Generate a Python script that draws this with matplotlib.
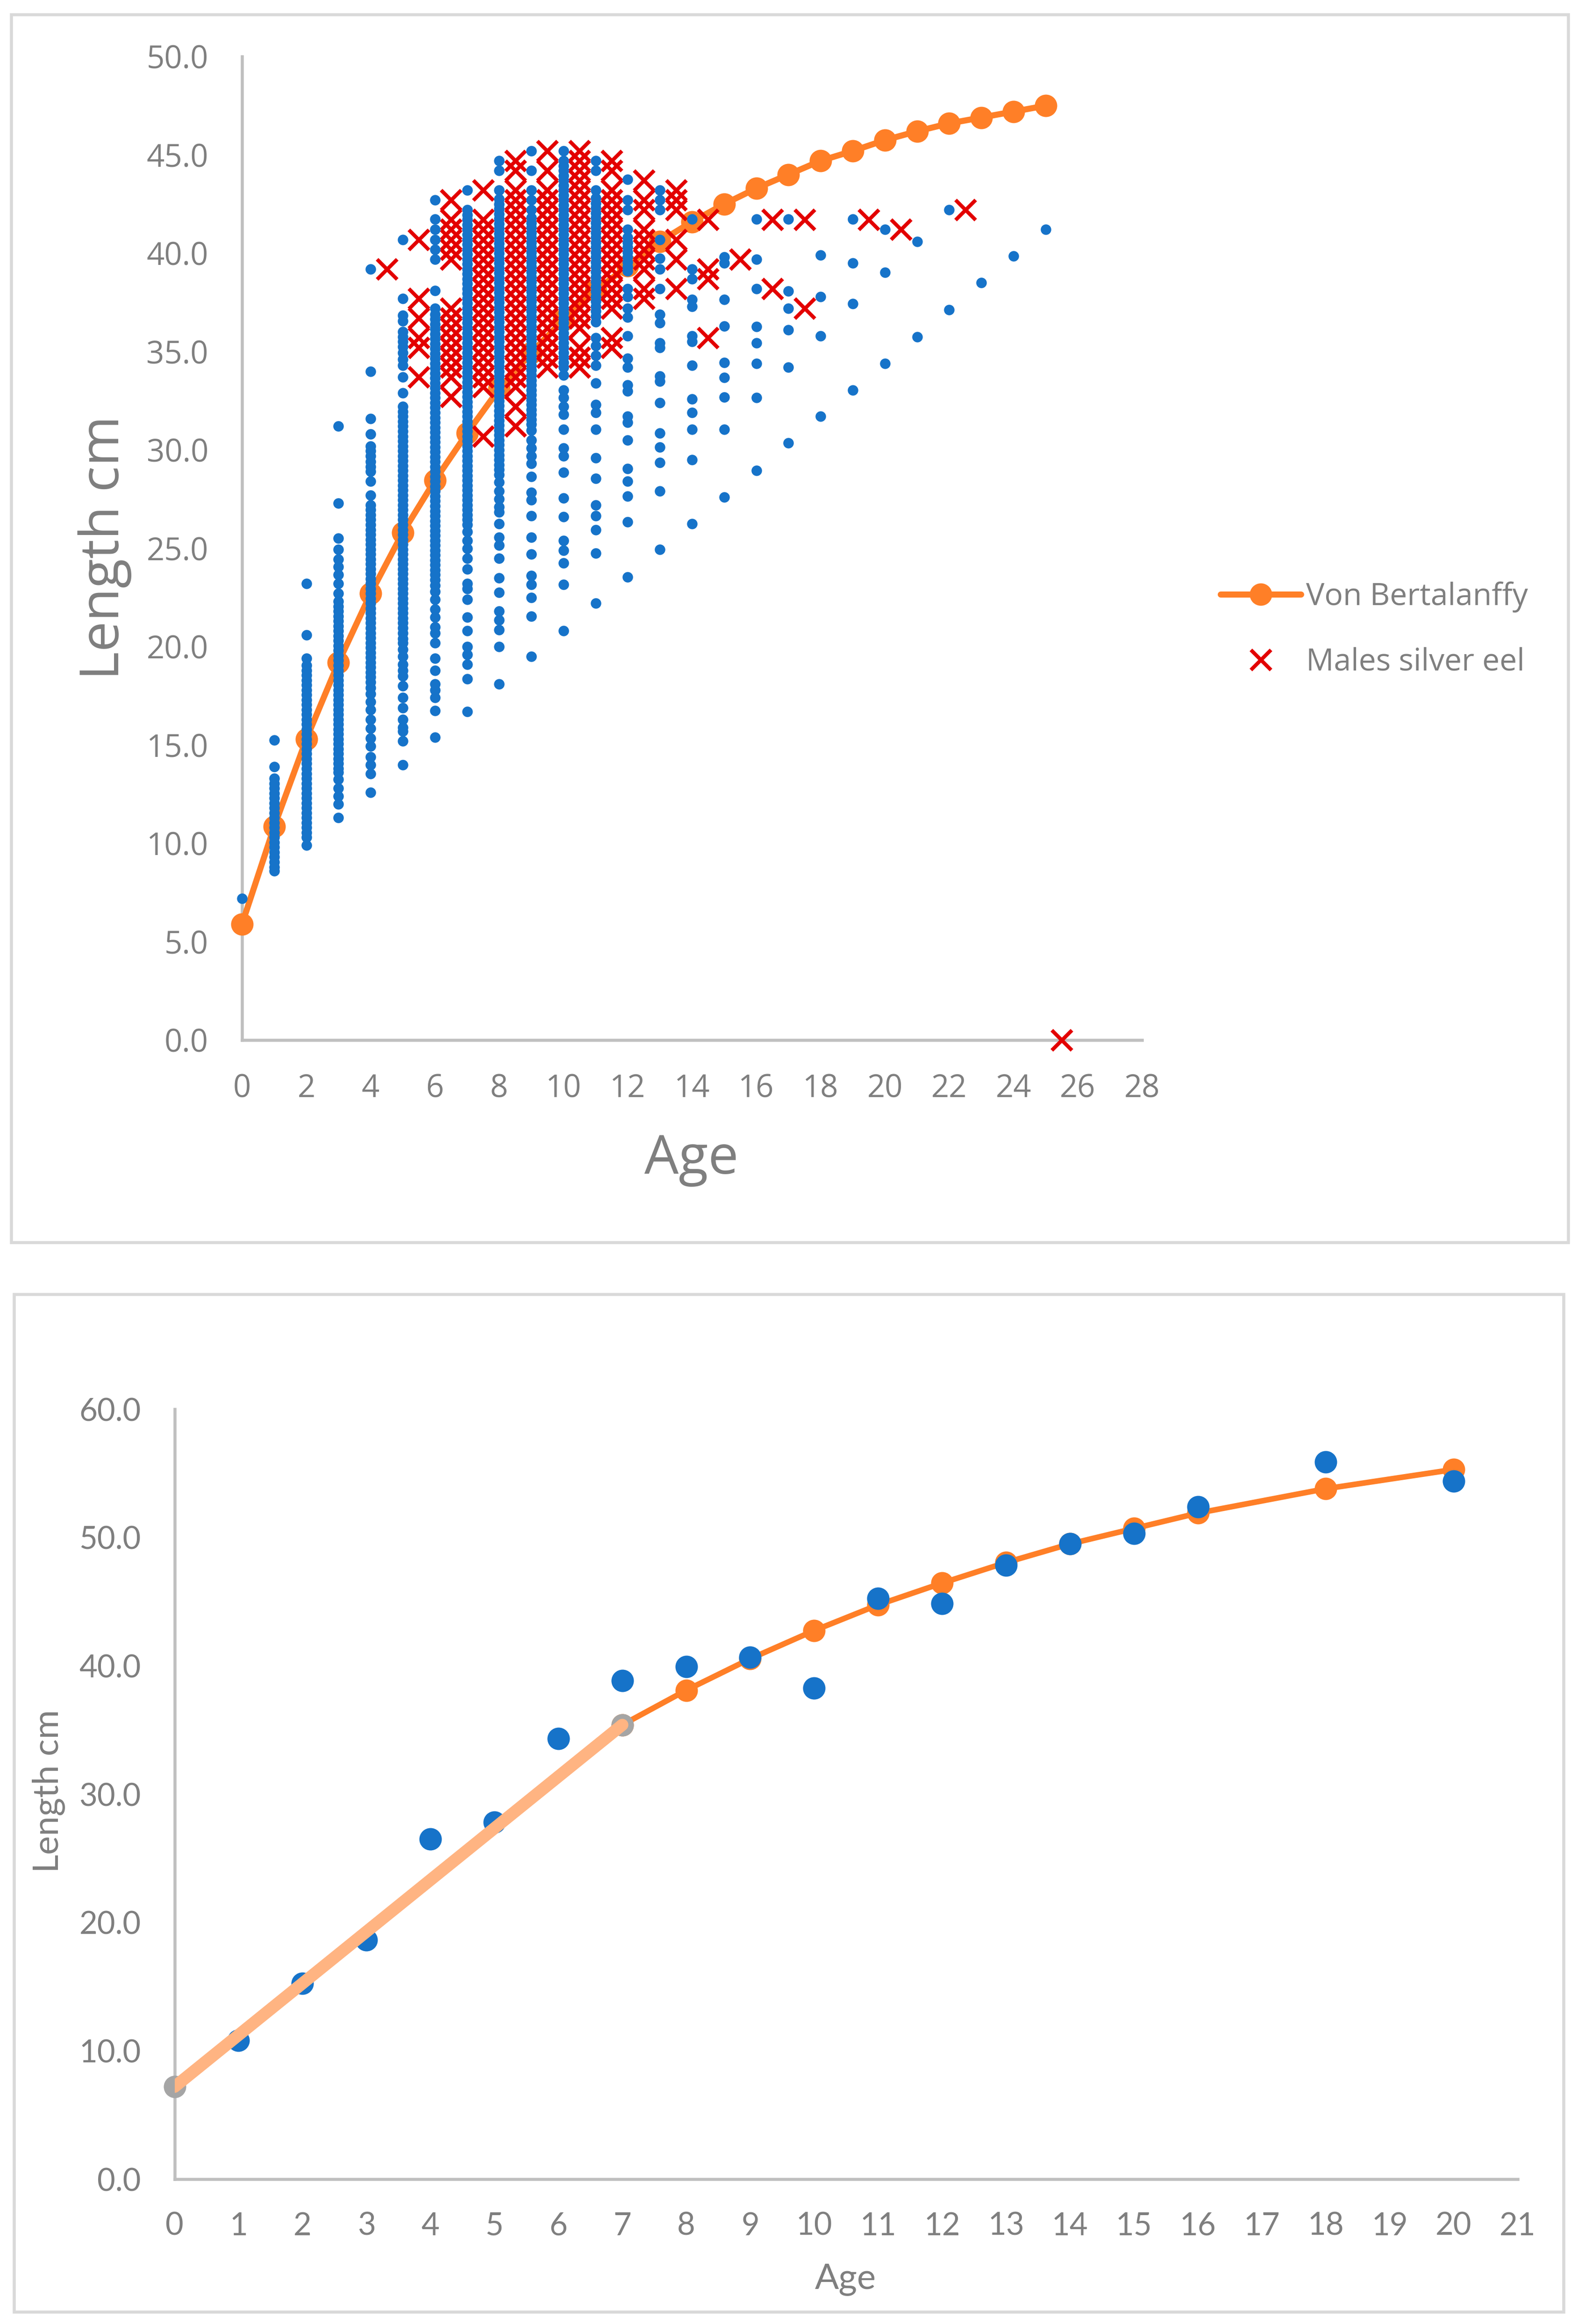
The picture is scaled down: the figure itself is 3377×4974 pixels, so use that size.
import matplotlib
matplotlib.use("Agg")
import matplotlib.pyplot as plt
from matplotlib.patches import Rectangle
from matplotlib.lines import Line2D

W, H, DPI = 3377, 4974, 100
BLUE, ORANGE, RED, GREY_PT, PEACH = '#1673C9', '#FF7F27', '#E30000', '#A5A5A5', '#FFB482'
TXT, AX, FR = '#7F7F7F', '#BFBFBF', '#D9D9D9'

# --- top chart data: length readings per age (blue dots) ---
age0 = [7.2]
age1 = [15.25, 13.9, 13.3, 13.05, 12.8, 12.55, 12.3, 12.05, 11.8, 11.55, 11.3, 11.05, 10.8, 10.55, 10.3, 10.05,
        9.8, 9.55, 9.3, 9.05, 8.8, 8.6]
age2 = [23.2, 20.6, 19.4, 19.05, 18.8, 18.55, 18.3, 18.05, 17.8, 17.55, 17.3, 17.05, 16.8, 16.55, 16.3, 16.05,
        15.8, 15.55, 15.3, 15.05, 14.8, 14.55, 14.3, 14.05, 13.8, 13.55, 13.3, 13.05, 12.8, 12.55, 12.3, 12.05,
        11.8, 11.55, 11.3, 11.05, 10.8, 10.55, 10.3, 9.9]
age3 = [31.2, 27.3, 25.5, 24.95, 24.45, 24.05, 23.65, 23.2, 22.7, 22.3, 22.05, 21.8, 21.55, 21.3, 21.05, 20.8,
        20.55, 20.3, 20.05, 19.8, 19.55, 19.3, 19.05, 18.8, 18.55, 18.3, 18.05, 17.8, 17.55, 17.3, 17.05, 16.8,
        16.55, 16.3, 16.05, 15.8, 15.55, 15.3, 15.05, 14.8, 14.55, 14.3, 14.05, 13.8, 13.6,
        13.25, 12.8, 12.4, 12.0, 11.3]
age4 = [39.2, 34.0, 31.6, 30.8, 30.2, 29.95, 29.7, 29.4, 29.15, 28.9, 28.4, 27.7, 27.2, 26.95, 26.7, 26.45, 26.2,
        25.95, 25.7, 25.45, 25.2, 24.95, 24.7, 24.45, 24.2, 23.95, 23.7, 23.45, 23.2, 22.95, 22.7, 22.45, 22.2,
        21.95, 21.7, 21.45, 21.2, 20.95, 20.7, 20.45, 20.2, 19.95, 19.7, 19.45, 19.2, 18.95, 18.7, 18.45, 18.2,
        17.9, 17.6, 17.2, 16.8, 16.3, 15.85, 15.35, 14.95, 14.4, 14.0, 13.55, 12.6]
age5 = [40.7, 37.7, 36.85, 36.55, 36.0, 35.75, 35.5, 35.25, 34.95, 34.6, 34.3, 33.7, 32.9, 32.2, 31.95, 31.7,
        31.45, 31.2, 30.95, 30.7, 30.45, 30.2, 29.95, 29.7, 29.45, 29.2, 28.95, 28.7, 28.45, 28.2, 27.95, 27.7,
        27.45, 27.2, 26.95, 26.7, 26.45, 26.2, 25.95, 25.7, 25.45, 25.2, 24.95, 24.7, 24.45, 24.2, 23.95, 23.7,
        23.45, 23.2, 22.95, 22.7, 22.45, 22.2, 21.95, 21.7, 21.45, 21.2, 20.95, 20.7, 20.4, 20.2, 19.85, 19.5,
        19.1, 18.8, 18.5, 18.0, 17.4, 16.9, 16.3, 15.9, 15.7, 15.2, 14.0]
age6 = [42.7, 41.74, 41.2, 40.7, 40.2, 39.7, 38.1, 37.2, 36.9, 36.65, 36.4, 36.15, 35.9, 35.65, 35.4, 35.15,
        34.9, 34.65, 34.4, 34.15, 33.9, 33.65, 33.4, 33.15, 32.9, 32.65, 32.4, 32.15, 31.9, 31.65, 31.4, 31.15,
        30.9, 30.65, 30.4, 30.15, 29.9, 29.65, 29.4, 29.15, 28.9, 28.65, 28.4, 28.15, 27.9, 27.65, 27.4, 27.15,
        26.9, 26.65, 26.4, 26.15, 25.9, 25.65, 25.4, 25.15, 24.9, 24.65, 24.4, 24.15, 23.9, 23.65, 23.4, 23.1,
        22.8, 22.4, 21.9, 21.5, 21.0, 20.7, 20.2, 19.4, 18.8, 18.1, 17.8, 17.4, 16.75, 15.4]
age7 = [43.2, 42.2, 41.95, 41.7, 41.45, 41.2, 40.95, 40.7, 40.45, 40.2, 39.95, 39.7, 39.45, 39.2, 38.95, 38.7,
        38.45, 38.2, 37.95, 37.7, 37.45, 37.2, 36.95, 36.7, 36.45, 36.2, 35.95, 35.7, 35.45, 35.2, 34.95, 34.7,
        34.45, 34.2, 33.95, 33.7, 33.45, 33.2, 32.95, 32.7, 32.45, 32.2, 31.95, 31.7, 31.45, 31.2, 30.95, 30.7,
        30.45, 30.2, 29.95, 29.7, 29.45, 29.2, 28.95, 28.7, 28.45, 28.2, 27.95, 27.7, 27.45, 27.2, 26.95, 26.7,
        26.45, 26.2, 25.85, 25.4, 25.0, 24.5, 23.95, 23.2, 22.95, 22.4, 21.5, 20.8, 20.0, 19.6, 19.1, 18.35, 16.7]
age8 = [44.7, 44.2, 43.2, 42.76, 42.5, 42.25, 42.0, 41.75, 41.5, 41.25, 41.0, 40.75, 40.5, 40.25, 40.0, 39.75,
        39.5, 39.25, 39.0, 38.75, 38.5, 38.25, 38.0, 37.75, 37.5, 37.25, 37.0, 36.75, 36.5, 36.25, 36.0, 35.75,
        35.5, 35.25, 35.0, 34.75, 34.5, 34.25, 34.0, 33.75, 33.5, 33.25, 33.0, 32.75, 32.5, 32.25, 32.0, 31.75,
        31.5, 31.25, 31.0, 30.75, 30.5, 30.25, 30.0, 29.75, 29.5, 29.25, 29.0, 28.75, 28.35, 27.9, 27.5, 27.1,
        26.85, 26.25, 25.55, 25.15, 24.5, 23.5, 22.75, 21.8, 21.35, 20.85, 20.0, 18.1]
age9 = [45.2, 44.2, 43.2, 42.7, 42.2, 41.8, 41.55, 41.3, 41.05, 40.8, 40.55, 40.3, 40.05, 39.8, 39.55, 39.3,
        39.05, 38.8, 38.55, 38.3, 38.05, 37.8, 37.55, 37.3, 37.05, 36.8, 36.55, 36.3, 36.05, 35.8, 35.55, 35.3,
        35.05, 34.8, 34.55, 34.3, 34.05, 33.8, 33.55, 33.3, 33.05, 32.8, 32.55, 32.3, 32.05, 31.8, 31.55, 31.3,
        31.0, 30.5, 30.1, 29.7, 29.3, 28.65, 27.85, 27.45, 26.65, 25.55, 24.7, 23.6, 23.15, 22.5, 21.55, 19.5]
age10 = [45.2, 44.7, 44.45, 44.2, 43.95, 43.7, 43.45, 43.2, 42.95, 42.7, 42.45, 42.2, 41.95, 41.7, 41.45, 41.2,
         40.95, 40.7, 40.45, 40.2, 39.95, 39.7, 39.45, 39.2, 38.95, 38.7, 38.45, 38.2, 37.95, 37.7, 37.45, 37.2,
         36.95, 36.7, 36.45, 36.2, 35.95, 35.7, 35.45, 35.2, 34.95, 34.7, 34.45, 34.2, 33.8, 33.05, 32.65, 32.2,
         31.8, 31.05, 30.1, 29.7, 28.85, 27.55, 26.6, 25.4, 24.9, 24.25, 23.15, 20.8]
age11 = [44.7, 44.2, 43.2, 42.8, 42.55, 42.3, 42.05, 41.8, 41.55, 41.3, 41.05, 40.8, 40.55, 40.3, 40.05, 39.8,
         39.55, 39.3, 39.05, 38.8, 38.55, 38.3, 38.05, 37.8, 37.55, 37.3, 37.05, 36.8, 36.5, 35.7, 35.3, 34.8,
         34.3, 33.4, 32.3, 31.9, 31.05, 29.6, 28.55, 27.2, 26.65, 25.95, 24.75, 22.2]
age12 = [43.75, 42.7, 42.2, 41.2, 40.8, 40.55, 40.3, 40.05, 39.8, 39.55, 39.3, 39.1, 38.2, 37.8, 37.2, 36.75, 35.8,
         34.65, 34.2, 33.3, 33.0, 31.7, 31.4, 30.5, 29.05, 28.4, 27.65, 26.35, 23.55]
age13 = [43.2, 42.7, 42.2, 40.7, 39.75, 39.2, 38.2, 36.9, 36.45, 35.45, 35.2, 33.75, 33.5, 32.4, 30.85, 30.15,
         29.35, 27.9, 24.95]
age14 = [41.74, 39.2, 38.7, 37.65, 37.3, 35.8, 35.5, 34.3, 32.6, 31.9, 31.05, 29.5, 26.25]
age15 = [39.8, 39.5, 37.64, 36.3, 34.43, 33.68, 32.68, 31.04, 27.6]
age16 = [41.74, 39.7, 38.2, 36.27, 35.45, 34.4, 32.65, 28.95]
age17 = [41.74, 38.08, 37.2, 36.1, 34.2, 30.35]
age18 = [39.9, 37.8, 35.8, 31.7]
age19 = [41.74, 39.5, 37.44, 33.05]
age20 = [41.2, 39.03, 34.4]
age21 = [40.6, 35.76]
age22 = [42.2, 37.13]
age23 = [38.5]
age24 = [39.85]
age25 = [41.2]
blue_ages = [age0, age1, age2, age3, age4, age5, age6, age7, age8, age9, age10, age11, age12,
             age13, age14, age15, age16, age17, age18, age19, age20, age21, age22, age23, age24, age25]

# Von Bertalanffy curve
vb_age = list(range(26))
vb_len = [5.9, 10.85, 15.3, 19.2, 22.7, 25.8, 28.45, 30.85, 33.1, 34.95, 36.6, 38.1, 39.35, 40.6, 41.6, 42.5,
          43.3, 44.0, 44.7, 45.2, 45.75, 46.2, 46.6, 46.9, 47.2, 47.5]

# males silver eel: x-position -> lengths
male_x = [4.5, 5.5, 6.5, 7.5, 8.5, 9.5, 10.5, 11.5, 12.5, 13.5, 14.5, 15.5, 16.5, 17.5, 19.5, 20.5, 22.5, 25.5]
male_len = [
    [39.2],
    [40.7, 37.7, 36.7, 35.7, 35.2, 33.7],
    [42.7, 41.7, 41.2, 40.7, 40.2, 39.7, 37.2, 36.7, 36.2, 35.7, 35.2, 34.7, 34.2, 33.7, 32.7],
    [43.2, 41.7, 41.2, 40.7, 40.2, 39.7, 39.2, 38.7, 38.2, 37.7, 37.2, 36.7, 36.2, 35.7, 35.2, 34.7, 34.2, 33.7, 33.2, 30.7],
    [44.7, 44.2, 43.2, 42.7, 42.2, 41.7, 41.2, 40.7, 40.2, 39.7, 39.2, 38.7, 38.2, 37.7, 37.2, 36.7, 36.2, 35.7, 35.2, 34.7,
     34.2, 33.7, 33.2, 32.2, 31.2],
    [45.2, 44.2, 43.2, 42.7, 42.2, 41.7, 41.2, 40.7, 40.2, 39.7, 39.2, 38.7, 38.2, 37.7, 37.2, 36.7, 36.2, 35.7, 35.2, 34.7, 34.2],
    [45.2, 44.7, 44.2, 43.7, 43.2, 42.7, 42.2, 41.7, 41.2, 40.7, 40.2, 39.7, 39.2, 38.7, 38.2, 37.7, 37.2, 36.7, 36.2, 35.2, 34.7, 34.2],
    [44.7, 44.2, 43.2, 42.7, 42.2, 41.7, 41.2, 40.7, 40.2, 39.7, 39.2, 38.7, 38.2, 37.7, 37.2, 35.7, 35.2],
    [43.7, 42.7, 42.2, 41.2, 40.7, 40.2, 39.7, 39.2, 38.2, 37.7],
    [43.2, 42.7, 42.2, 40.7, 39.7, 38.2],
    [41.7, 39.2, 38.7, 35.7],
    [39.7],
    [41.7, 38.2],
    [41.7, 37.2],
    [41.7],
    [41.2],
    [42.2],
    [0.0],
]
top_xticks = list(range(0, 29, 2))
top_yticks = [0, 5, 10, 15, 20, 25, 30, 35, 40, 45, 50]

# --- bottom chart data ---
obs_age = [1, 2, 3, 4, 5, 6, 7, 8, 9, 10, 11, 12, 13, 14, 15, 16, 18, 20]
obs_len = [10.8, 15.25, 18.65, 26.5, 27.8, 34.35, 38.85, 39.95, 40.65, 38.25, 45.25, 44.85, 47.85, 49.5, 50.3, 52.4, 55.9, 54.4]
fit_age = [7, 8, 9, 10, 11, 12, 13, 14, 15, 16, 18, 20]
fit_len = [35.4, 38.1, 40.55, 42.75, 44.75, 46.45, 48.05, 49.5, 50.7, 51.9, 53.8, 55.3]
grey_age = [0, 7]
grey_len = [7.2, 35.4]
bot_xticks = list(range(0, 22))
bot_yticks = [0, 10, 20, 30, 40, 50, 60]

fig = plt.figure(figsize=(W / DPI, H / DPI), dpi=DPI, facecolor='white')


def pt(px):
    return px * 72 / DPI


def axes_px(l, r, t, b):
    return fig.add_axes([l / W, 1 - b / H, (r - l) / W, (b - t) / H])


def frame(l, r, t, b):
    fig.add_artist(Rectangle((l / W, 1 - b / H), (r - l) / W, (b - t) / H, transform=fig.transFigure,
                             fc='none', ec=FR, lw=pt(6.5)))


def style(ax, font, size, xpad, ypad):
    for s in ('top', 'right'):
        ax.spines[s].set_visible(False)
    for s in ('left', 'bottom'):
        ax.spines[s].set_color(AX)
        ax.spines[s].set_linewidth(pt(6.5))
    ax.tick_params(length=0, labelcolor=TXT, labelsize=size)
    ax.tick_params(axis='x', pad=xpad)
    ax.tick_params(axis='y', pad=ypad)
    for lb in ax.get_xticklabels() + ax.get_yticklabels():
        lb.set_fontfamily(font)
    ax.patch.set_alpha(0)


frame(23.5, 3356, 30.6, 2659)
frame(30, 3346, 2770, 4948)

# top chart
ax = axes_px(518, 2444, 121, 2226)
ax.set_xlim(0, 28)
ax.set_ylim(0, 50)
ax.set_xticks(top_xticks)
ax.set_yticks(top_yticks)
ax.set_yticklabels([f'{v:.1f}' for v in top_yticks])
ax.plot(vb_age, vb_len, color=ORANGE, lw=pt(13), marker='o', ms=pt(48), mew=0, clip_on=False, zorder=3,
        solid_capstyle='round')
for x, ys in zip(male_x, male_len):
    ax.plot([x] * len(ys), ys, ls='none', marker='x', ms=pt(43), mew=pt(8), color=RED, clip_on=False, zorder=4)
for a, ys in enumerate(blue_ages):
    ax.plot([a] * len(ys), ys, ls='none', marker='o', ms=pt(22.5), mew=0, color=BLUE, clip_on=False, zorder=5)
style(ax, 'Open Sans', pt(67), pt(71), pt(72))

handles = [Line2D([], [], color=ORANGE, lw=pt(13), marker='o', ms=pt(48), mew=0, solid_capstyle='round'),
           Line2D([], [], color=RED, ls='none', marker='x', ms=pt(43), mew=pt(8))]
fig.legend(handles, ['Von Bertalanffy', 'Males silver eel'], loc='upper left', frameon=False,
           bbox_to_anchor=(2612 / W, 1 - 1245 / H), borderpad=0, borderaxespad=0, handlelength=2.6,
           handletextpad=0.18, labelspacing=1.11,
           prop={'family': 'Open Sans', 'size': pt(66)}, labelcolor=TXT)

fig.text(1480 / W, 1 - 2482 / H, 'Age', family='Open Sans', size=pt(116), color=TXT, ha='center', va='center')
fig.text(224 / W, 1 - 1172 / H, 'Length cm', family='Open Sans', size=pt(116), color=TXT, ha='center',
         va='center', rotation=90)

# bottom chart
bx = axes_px(373.6, 3248, 3016, 4664)
bx.set_xlim(0, 21)
bx.set_ylim(0, 60)
bx.set_xticks(bot_xticks)
bx.set_yticks(bot_yticks)
bx.set_yticklabels([f'{v:.1f}' for v in bot_yticks])
bx.plot(fit_age, fit_len, color=ORANGE, lw=pt(12), marker='o', ms=pt(48), mew=0, clip_on=False, zorder=3)
bx.plot(obs_age, obs_len, ls='none', marker='o', ms=pt(48), mew=0, color=BLUE, clip_on=False, zorder=4)
bx.plot(grey_age, grey_len, ls='none', marker='o', ms=pt(48), mew=0, color=GREY_PT, clip_on=False, zorder=5)
bx.plot(grey_age, grey_len, color=PEACH, lw=pt(26), solid_capstyle='round', zorder=6)
style(bx, 'Lato', pt(67), pt(70), pt(72))

fig.text(1809 / W, 1 - 4880 / H, 'Age', family='Lato', size=pt(76), color=TXT, ha='center', va='center')
fig.text(104 / W, 1 - 3833 / H, 'Length cm', family='Lato', size=pt(76), color=TXT, ha='center', va='center',
         rotation=90)

fig.savefig('out.png', dpi=DPI, facecolor='white')
